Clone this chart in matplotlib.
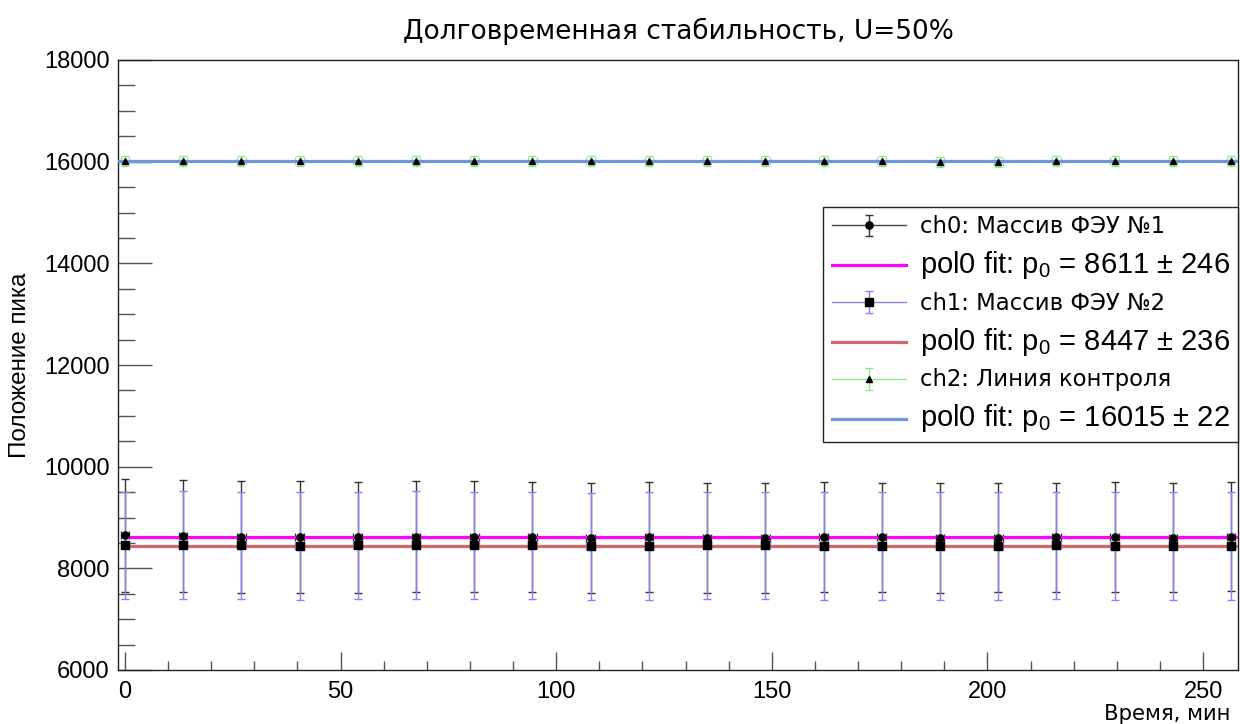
import matplotlib
matplotlib.use('Agg')
import matplotlib.pyplot as plt
from matplotlib.lines import Line2D
from matplotlib.container import ErrorbarContainer
from matplotlib.legend_handler import HandlerErrorbar
from matplotlib.ticker import MultipleLocator
import numpy as np

# ---------------- data ----------------
time_min = [0, 13.5, 27, 40.5, 54, 67.5, 81, 94.5, 108, 121.5,
            135, 148.5, 162, 175.5, 189, 202.5, 216, 229.5, 243, 256.5]
time_err = [1.0] * 20

ch0_peak = [8650, 8630, 8620, 8615, 8610, 8620, 8620, 8615, 8600, 8610,
            8600, 8600, 8615, 8610, 8595, 8600, 8610, 8615, 8600, 8620]
ch0_err = [1110, 1100, 1100, 1095, 1090, 1090, 1090, 1085, 1080, 1080,
           1080, 1080, 1080, 1075, 1075, 1075, 1075, 1075, 1075, 1075]

ch1_peak = [8450, 8460, 8450, 8440, 8450, 8460, 8450, 8450, 8430, 8440,
            8450, 8450, 8440, 8440, 8440, 8440, 8450, 8440, 8440, 8440]
ch1_err = [1055, 1055, 1055, 1055, 1055, 1055, 1055, 1055, 1055, 1055,
           1055, 1055, 1055, 1055, 1055, 1055, 1055, 1055, 1055, 1055]

ch2_peak = [16020, 16010, 16005, 16010, 16020, 16020, 16020, 16020, 16010, 16010,
            16010, 16010, 16010, 16010, 16000, 16000, 16010, 16010, 16005, 16010]
ch2_err = [100] * 20

fit_p0 = [8611, 8447, 16015]
fit_p0_err = [246, 236, 22]
fit_x_start = [1.4, 1.4, -1.6]

series_labels = ["ch0: Массив ФЭУ №1", "ch1: Массив ФЭУ №2", "ch2: Линия контроля"]

title_text = "Долговременная стабильность, U=50%"
xlabel_text = "Время, мин"
ylabel_text = "Положение пика"

x_lim = (-1.6, 258.1)
y_lim = (6000, 18000)

# ---------------- figure ----------------
fig = plt.figure(figsize=(12.4, 7.24), dpi=100)
ax = fig.add_axes([118 / 1240, 54 / 724, 1120 / 1240, 610 / 724])

bar_colors = ['#333333', '#8484f6', '#8fe88f']
line_colors = ['#444444', '#8a8af5', '#90ee90']
markers = ['o', 's', '^']
msizes = [5.2, 5.5, 5]
fit_colors = ['#ff00ff', '#d4666a', '#6f96d8']

containers = []
peaks = [ch0_peak, ch1_peak, ch2_peak]
errs = [ch0_err, ch1_err, ch2_err]
for i in range(3):
    c = ax.errorbar(time_min, peaks[i], yerr=errs[i], xerr=time_err,
                    fmt=markers[i], ms=msizes[i], mfc='black', mec='black',
                    ecolor=bar_colors[i], elinewidth=1.0, capsize=3,
                    capthick=1.0, linestyle='none')
    c[0].set_zorder(5)
    for cl in c[1]:
        cl.set_zorder(2 + 0.1 * i)
    for bl in c[2]:
        bl.set_zorder(2 + 0.1 * i)
    containers.append(c)

fit_lines = []
for i in range(3):
    ln, = ax.plot([fit_x_start[i], x_lim[1]], [fit_p0[i], fit_p0[i]],
                  color=fit_colors[i], lw=2.3, zorder=3)
    fit_lines.append(ln)

ax.set_xlim(*x_lim)
ax.set_ylim(*y_lim)

ax.xaxis.set_major_locator(MultipleLocator(50))
ax.xaxis.set_minor_locator(MultipleLocator(10))
ax.yaxis.set_major_locator(MultipleLocator(2000))
ax.yaxis.set_minor_locator(MultipleLocator(500))

ax.tick_params(axis='both', which='both', direction='in', top=False, right=False,
               color='#555555', width=1.0)
ax.tick_params(axis='x', which='major', length=13, pad=8)
ax.tick_params(axis='x', which='minor', length=6.5)
ax.tick_params(axis='y', which='major', length=24.5, pad=6)
ax.tick_params(axis='y', which='minor', length=12.5)

for lab in ax.get_xticklabels() + ax.get_yticklabels():
    lab.set_fontfamily('Liberation Sans')
    lab.set_fontsize(17)

for sp in ax.spines.values():
    sp.set_linewidth(1.0)
    sp.set_color('#222222')

ax.set_title(title_text, fontfamily='DejaVu Sans', fontsize=19, pad=15)
ax.set_xlabel(xlabel_text, fontfamily='DejaVu Sans', fontsize=15.2, ha='right')
ax.xaxis.set_label_coords((1230 - 118) / 1120, -(714 - 670) / 610)
ax.xaxis.label.set_va('center')
ax.set_ylabel(ylabel_text, fontfamily='Liberation Sans', fontsize=17.5)
ax.yaxis.label.set_va('center')
ax.yaxis.set_label_coords((20 - 118) / 1120, 0.5)

# ---------------- legend ----------------
handles = []
labels = []
for i in range(3):
    handles.append((Line2D([], [], color=line_colors[i], lw=1.0), containers[i]))
    labels.append(series_labels[i])
    handles.append(Line2D([], [], color=fit_colors[i], lw=2.3))
    labels.append("pol0 fit: p$\\mathregular{_0}$ = %d $\\mathregular{\\pm}$ %d"
                  % (fit_p0[i], fit_p0_err[i]))

leg = ax.legend(handles, labels, loc='upper right',
                bbox_to_anchor=(1.0, (670 - 207) / 610),
                prop={'family': 'DejaVu Sans', 'size': 13},
                frameon=True, fancybox=False, framealpha=1.0,
                edgecolor='#222222', borderpad=0.45, labelspacing=0.6,
                handlelength=4.1, handletextpad=0.78, handleheight=1.2,
                borderaxespad=0,
                handler_map={ErrorbarContainer: HandlerErrorbar(xerr_size=0.0, yerr_size=0.6)})
leg.get_frame().set_linewidth(1.0)
leg.set_zorder(10)
for j, t in enumerate(leg.get_texts()):
    if j % 2 == 1:
        t.set_fontfamily('Liberation Sans')
        t.set_fontsize(21)
    else:
        t.set_fontsize(16.4)

fig.savefig('out.png', dpi=100, facecolor='white')
